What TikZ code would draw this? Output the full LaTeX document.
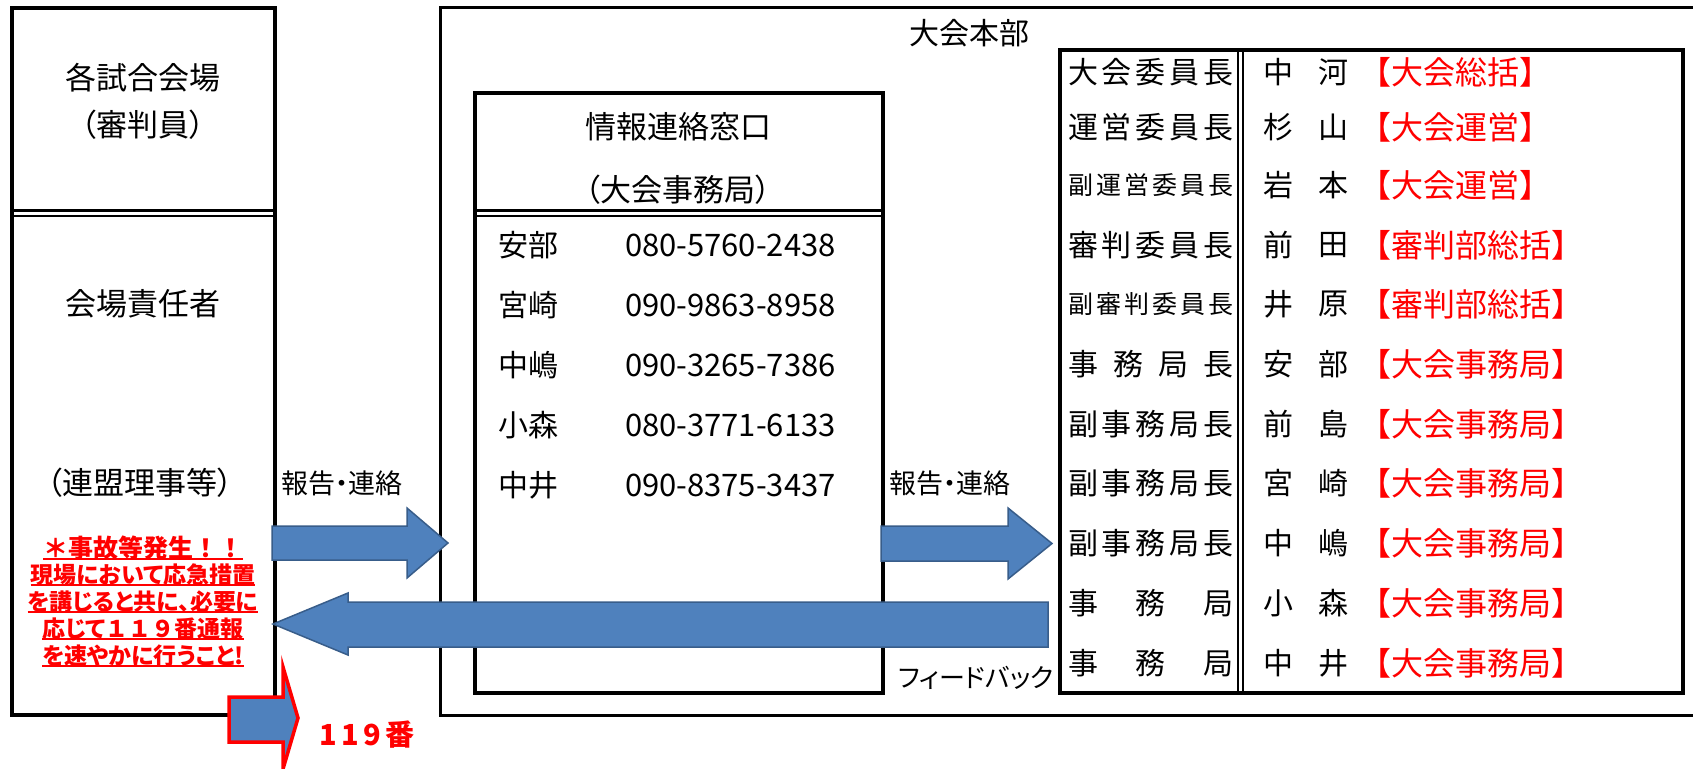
\documentclass[tikz,border=0pt]{standalone}
\usepackage{fontspec}
\setmainfont{Noto Sans CJK JP}
\newfontfamily\pfont[RawFeature=+palt]{Noto Sans CJK JP}
\newfontfamily\spacedfont[LetterSpace=15]{Noto Sans CJK JP}
\definecolor{arrowblue}{HTML}{4F81BD}
\definecolor{arrowedge}{HTML}{385D8A}
\definecolor{jred}{HTML}{FF0000}
\newcommand{\fsz}[1]{\fontsize{#1pt}{#1pt}\selectfont}
\newcommand{\myul}[1]{\setbox0\hbox{#1}\rlap{\rule[-2.5pt]{\wd0}{2pt}}\box0}
\newcommand{\dist}[1]{\hbox to 165pt{#1}}
\begin{document}
\begin{tikzpicture}[x=1pt,y=-1pt,
  t/.style={inner sep=0pt,outer sep=0pt},
  pj/.style={t,font=\pfont\fsz{#1}},
  rj/.style={t,font=\rmfamily\fsz{#1}},
  frame/.style={draw=black,line width=4pt},
  thinframe/.style={draw=black,line width=3pt},
  barrow/.style={fill=arrowblue,draw=arrowedge,line width=1.5pt,line join=miter},
  redarrow/.style={fill=arrowblue,draw=jred,line width=3.5pt,line join=miter,miter limit=20},
  note/.style={t,text=jred,font=\pfont\bfseries\fsz{23}},
  role/.style={t,anchor=west},
  duty/.style={t,anchor=west,text=jred,font=\rmfamily\fsz{32}}]
\useasboundingbox (0,0) rectangle (1693,768);
\clip (0,0) rectangle (1693,768);
\fill[white] (0,0) rectangle (1693,768);

% frames
\draw[thinframe] (440,8) rectangle (1705,715);
\draw[frame] (12,8) rectangle (275,715);
\draw[line width=2.5pt] (12,210.5) -- (275,210.5);
\draw[line width=2pt] (12,216) -- (275,216);
\draw[frame] (475,93) rectangle (883,693);
\draw[line width=2.5pt] (475,210.5) -- (883,210.5);
\draw[line width=2pt] (475,216) -- (883,216);
\draw[frame] (1060,50) rectangle (1683,693);
\draw[line width=2pt] (1238,50) -- (1238,693);
\draw[line width=2pt] (1243,50) -- (1243,693);

% left box texts
\node[pj=31] (venue) at (143,78) {各試合会場};
\node[pj=31] (referee) at (143,125) {（審判員）};
\node[pj=31] (chief) at (143,304) {会場責任者};
\node[pj=31] (league) at (140,483) {（連盟理事等）};
\node[note,font=\rmfamily\bfseries\fsz{25}] (n1) at (143,548) {\myul{＊事故等発生！！}};
\node[note] (n2) at (143,575) {\myul{現場において応急措置}};
\node[note] (n3) at (143,602) {\myul{を講じると共に、必要に}};
\node[note] (n4) at (143,629) {\myul{応じて{\rmfamily １１９}番通報}};
\node[note] (n5) at (143,656) {\myul{を速やかに行うこと!}};

% headquarters
\node[rj=30] (hq) at (969,33) {大会本部};
\node[rj=31] (win1) at (678,127) {情報連絡窓口};
\node[pj=31] (win2) at (678,190) {（大会事務局）};
\node[rj=30,anchor=west] (na1) at (498,245) {安部};
\node[rj=30,anchor=west] (na2) at (498,305) {宮崎};
\node[rj=30,anchor=west] (na3) at (498,365) {中嶋};
\node[rj=30,anchor=west] (na4) at (498,425) {小森};
\node[rj=30,anchor=west] (na5) at (498,485) {中井};
\node[rj=31,anchor=west] (ph1) at (625,245) {080-5760-2438};
\node[rj=31,anchor=west] (ph2) at (625,305) {090-9863-8958};
\node[rj=31,anchor=west] (ph3) at (625,365) {090-3265-7386};
\node[rj=31,anchor=west] (ph4) at (625,425) {080-3771-6133};
\node[rj=31,anchor=west] (ph5) at (625,485) {090-8375-3437};

% table column 1
\node[role,font=\rmfamily\fsz{30}] (ro1) at (1068,72) {\dist{大\hfill 会\hfill 委\hfill 員\hfill 長}};
\node[role,font=\rmfamily\fsz{30}] (ro2) at (1068,127) {\dist{運\hfill 営\hfill 委\hfill 員\hfill 長}};
\node[role,font=\rmfamily\fsz{25}] (ro3) at (1068,185) {\dist{副\hfill 運\hfill 営\hfill 委\hfill 員\hfill 長}};
\node[role,font=\rmfamily\fsz{30}] (ro4) at (1068,245) {\dist{審\hfill 判\hfill 委\hfill 員\hfill 長}};
\node[role,font=\rmfamily\fsz{25}] (ro5) at (1068,304) {\dist{副\hfill 審\hfill 判\hfill 委\hfill 員\hfill 長}};
\node[role,font=\rmfamily\fsz{30}] (ro6) at (1068,364) {\dist{事\hfill 務\hfill 局\hfill 長}};
\node[role,font=\rmfamily\fsz{30}] (ro7) at (1068,424) {\dist{副\hfill 事\hfill 務\hfill 局\hfill 長}};
\node[role,font=\rmfamily\fsz{30}] (ro8) at (1068,483) {\dist{副\hfill 事\hfill 務\hfill 局\hfill 長}};
\node[role,font=\rmfamily\fsz{30}] (ro9) at (1068,543) {\dist{副\hfill 事\hfill 務\hfill 局\hfill 長}};
\node[role,font=\rmfamily\fsz{30}] (ro10) at (1068,603) {\dist{事\hfill 務\hfill 局}};
\node[role,font=\rmfamily\fsz{30}] (ro11) at (1068,663) {\dist{事\hfill 務\hfill 局}};

% table column 2 (names)
\foreach \y/\a/\b [count=\i] in {72/中/河,127/杉/山,185/岩/本,245/前/田,304/井/原,364/安/部,424/前/島,483/宮/崎,543/中/嶋,603/小/森,663/中/井}{
  \node[rj=30] (fa\i) at (1278,\y) {\a};
  \node[rj=30] (fb\i) at (1333,\y) {\b};
}

% table column 3 (duties)
\node[duty] (du1) at (1359,72) {【大会総括】};
\node[duty] (du2) at (1359,127) {【大会運営】};
\node[duty] (du3) at (1359,185) {【大会運営】};
\node[duty] (du4) at (1359,245) {【審判部総括】};
\node[duty] (du5) at (1359,304) {【審判部総括】};
\node[duty] (du6) at (1359,364) {【大会事務局】};
\node[duty] (du7) at (1359,424) {【大会事務局】};
\node[duty] (du8) at (1359,483) {【大会事務局】};
\node[duty] (du9) at (1359,543) {【大会事務局】};
\node[duty] (du10) at (1359,603) {【大会事務局】};
\node[duty] (du11) at (1359,663) {【大会事務局】};

% labels
\node[pj=27] (rep1) at (342,483) {報告・連絡};
\node[pj=27] (rep2) at (950,483) {報告・連絡};
\node[pj=26] (fb) at (976,678) {フィードバック};
\node[t,text=jred,font=\spacedfont\bfseries\fsz{29}] (call) at (367,735) {119番};

% arrows
\draw[barrow] (272,526) -- (407,526) -- (407,508) -- (448,543) -- (407,578) -- (407,560) -- (272,560) -- cycle;
\draw[barrow] (881,526) -- (1008,526) -- (1008,508) -- (1052,543.5) -- (1008,579) -- (1008,561) -- (881,561) -- cycle;
\draw[barrow] (1048,602) -- (348,602) -- (348,593) -- (273,624) -- (348,655) -- (348,647) -- (1048,647) -- cycle;
\draw[redarrow] (229,697) -- (283,697) -- (283,667) -- (298,718) -- (283,769) -- (283,742) -- (229,742) -- cycle;
\end{tikzpicture}
\end{document}
